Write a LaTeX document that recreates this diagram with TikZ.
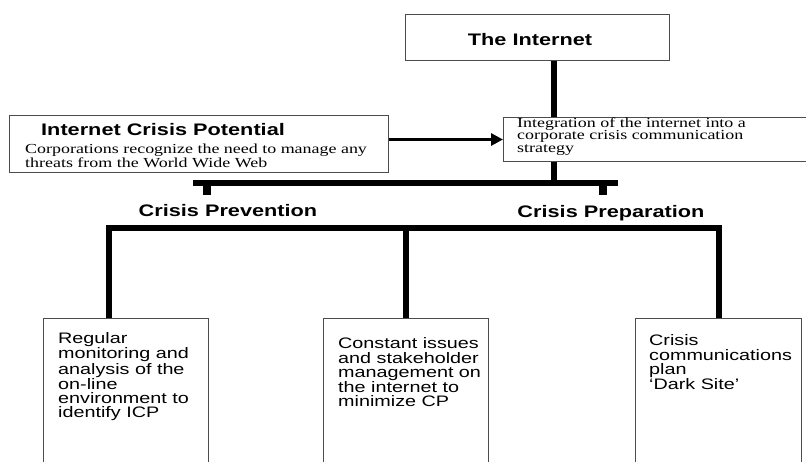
\documentclass[tikz,border=0pt]{standalone}
\usepackage{fontspec}
\setmainfont{Liberation Serif}[FakeStretch=1.3]
\newfontfamily\headfont{Liberation Sans}[FakeStretch=1.3]
\usetikzlibrary{arrows.meta}

\tikzset{
  frame/.style={draw=black!70, line width=1pt, inner sep=0pt, anchor=north west},
  heading/.style={font=\headfont\bfseries\fontsize{16.7}{18}\selectfont, inner sep=0pt},
  serifnote/.style={font=\fontsize{13.8}{12.6}\selectfont, align=left, inner sep=0pt, anchor=base west},
  boxtext/.style={font=\headfont\fontsize{15.2}{14.1}\selectfont, align=left, inner sep=0pt, anchor=base west},
  link/.style={line width=6.5pt, line join=miter},
}

\begin{document}
\begin{tikzpicture}[x=1pt, y=-1pt]
\useasboundingbox (0,0) rectangle (806,461);
\clip (0,0) rectangle (806,461);

\node[frame, minimum width=264pt, minimum height=46pt] (internet) at (405,14) {};
\node[frame, minimum width=379pt, minimum height=57pt] (icp) at (9,115) {};
\node[frame, minimum width=312pt, minimum height=44pt] (integ) at (503,117) {};
\node[frame, minimum width=165pt, minimum height=160pt] (boxA) at (43,318) {};
\node[frame, minimum width=165pt, minimum height=160pt] (boxB) at (323,318) {};
\node[frame, minimum width=166pt, minimum height=160pt] (boxC) at (635,318) {};

% multi-line texts sit on the baseline of their last line
\node[heading, anchor=base] (internettitle) at (530,45) {The Internet};
\node[heading, anchor=base west] (icptitle) at (41,135) {Internet Crisis Potential};
\node[serifnote] (icpnote) at (25,167.6) {Corporations recognize the need to manage any\\threats from the World Wide Web};
\node[serifnote] (integnote) at (517,152.2) {Integration of the internet into a\\corporate crisis communication\\strategy};
\node[heading, anchor=base] (prevention) at (228,216) {Crisis Prevention};
\node[heading, anchor=base] (preparation) at (611,217) {Crisis Preparation};

\node[boxtext] (monitor) at (58,417.5) {Regular\\monitoring and\\analysis of the\\on-line\\environment to\\identify ICP};
\node[boxtext] (issues) at (338,406.4) {Constant issues\\and stakeholder\\management on\\the internet to\\minimize CP};
\node[boxtext] (darksite) at (649,389.3) {Crisis\\communications\\plan\\‘Dark Site’};

\coordinate (spine) at (554,0);
\coordinate (upL) at (193,183);
\coordinate (upR) at (618,183);
\coordinate (prevstub) at (207,195);
\coordinate (prepstub) at (603,195);
\coordinate (lowL) at (109,228);
\coordinate (lowR) at (719,228);
\coordinate (midstub) at (406,228);

\draw[link] (internet.south -| spine) -- (integ.north -| spine);
\draw[link] (integ.south -| spine) -- (upL -| spine);
\draw[link] (upL) -- (upR);
\draw[link, line width=8.5pt] (prevstub |- upL) -- (prevstub);
\draw[link, line width=8.5pt] (prepstub |- upR) -- (prepstub);
\draw[link] (boxA.north -| lowL) -- (lowL) -- (lowR) -- (boxC.north -| lowR);
\draw[link] (midstub) -- (boxB.north -| midstub);
\draw[line width=3.8pt, -{Triangle[length=12pt,width=12pt]}] (icp.east |- integ.west) -- (integ.west);

\end{tikzpicture}
\end{document}
